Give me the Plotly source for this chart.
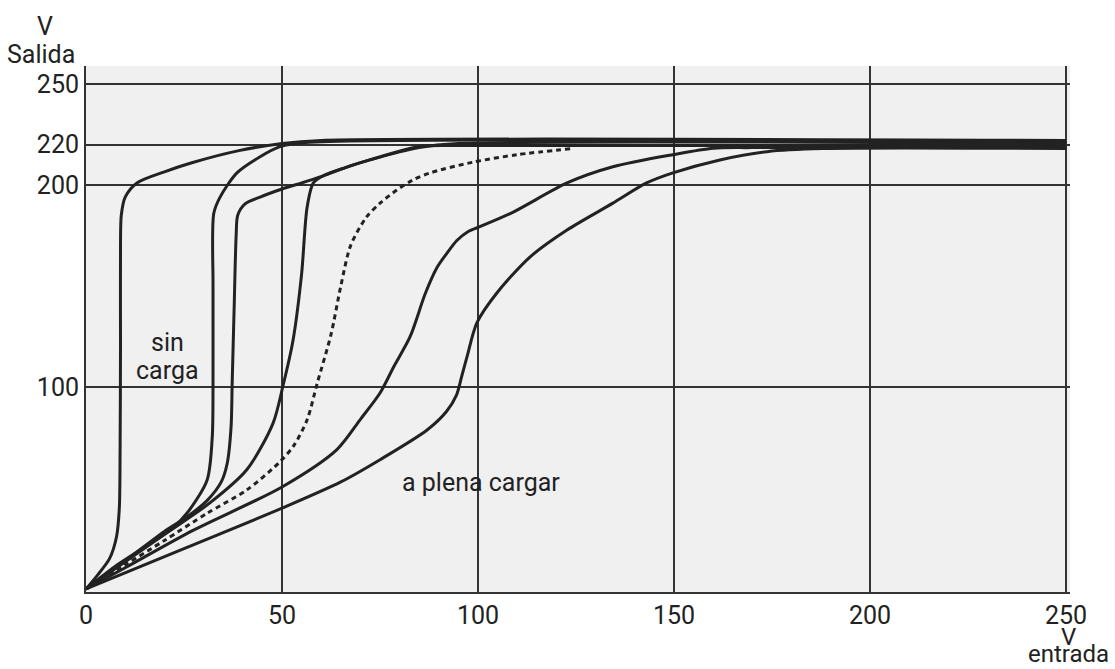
import plotly.graph_objects as go

# Input voltage (V entrada) vs output voltage (V Salida) for several load levels
c1_x = [0, 3, 6, 7.8, 8.5, 8.7, 8.8, 8.8, 9.0, 10.0, 13.0, 20.0, 27.0, 39.0, 50.0, 60, 250]
c1_y = [0, 7, 15, 26, 40, 70, 120, 170, 185, 194, 201, 206.5, 211, 217, 220.5, 222, 222]

c2_x = [0, 8, 16, 22, 25.8, 30.9, 32.2, 32.4, 32.4, 32.6, 34.2, 38.5, 44.4, 49.5, 56, 250]
c2_y = [0, 12, 22, 30, 37.6, 54, 75, 100, 150, 186, 194, 206, 214, 219, 221, 221]

c3_x = [0, 10, 20, 26, 31, 34.5, 36, 37, 37.3, 37.8, 38.3, 38.7, 40.5, 44.4, 50, 55, 59.7, 66, 72.4, 85, 95, 250]
c3_y = [0, 14, 28.5, 36, 44, 53, 62, 80, 103, 140, 175, 185, 190.5, 194, 198, 201, 204, 208.5, 212.4, 218.5, 220.5, 220.5]

c4_x = [0, 10, 20, 31.6, 41, 47.7, 50.3, 52.8, 55, 56.4, 58, 60.5, 66, 72.4, 85, 95, 250]
c4_y = [0, 13.5, 27, 42.6, 59, 82, 101, 123, 156, 189, 201, 204.5, 208.5, 212.4, 219, 219.5, 219.5]

dot_x = [0, 10, 20, 31, 41, 49.5, 53, 56.4, 59, 62.5, 65, 67.5, 71.5, 75, 79.3, 83.4, 87.8, 98.5, 110, 124]
dot_y = [0, 12, 24, 37.6, 49, 63, 71, 83.7, 102, 126, 150, 170, 184, 191, 197.5, 202.5, 206, 211.2, 215, 218]

c6_x = [0, 10, 27.3, 50, 64, 70, 75, 78.5, 82.7, 86.5, 89.5, 92, 94.6, 97.5, 100, 109, 122.7, 134.4, 149.7, 160, 170, 250]
c6_y = [0, 10.5, 29, 50.5, 69, 84, 97, 110, 125, 146, 159, 166, 172.5, 177, 179, 186.6, 201, 209, 215, 218.2, 218.5, 218.5]

c7_x = [0, 25, 50, 65, 75, 87, 92, 94.5, 95.8, 97.2, 99.7, 104.8, 113.3, 122.7, 134.4, 143, 149.7, 161.7, 173.7, 188, 250]
c7_y = [0, 20, 40, 53, 64, 78.7, 88, 96, 105, 115, 131.7, 146.5, 164.4, 177.7, 191, 201, 206, 212.4, 216.5, 218, 218]

x_ticks = [0, 50, 100, 150, 200, 250]
y_ticks = [100, 200, 220, 250]

INK = "#222222"
GRID = "#333333"
FONT = "Roboto, Liberation Sans, sans-serif"
FS = 25

fig = go.Figure()

solid = [(c1_x, c1_y), (c2_x, c2_y), (c3_x, c3_y), (c4_x, c4_y), (c6_x, c6_y), (c7_x, c7_y)]
for xs, ys in solid:
    fig.add_trace(go.Scatter(
        x=xs, y=ys, mode="lines",
        line=dict(color=INK, width=3, shape="spline", smoothing=0.8),
        hoverinfo="skip", showlegend=False,
    ))

fig.add_trace(go.Scatter(
    x=dot_x, y=dot_y, mode="lines",
    line=dict(color=INK, width=3, dash="5px,4px", shape="spline", smoothing=0.8),
    hoverinfo="skip", showlegend=False,
))

axis_style = dict(
    showgrid=True, gridcolor=GRID, gridwidth=2,
    showline=True, linecolor=GRID, linewidth=2,
    zeroline=False, ticks="", fixedrange=True,
    tickfont=dict(family=FONT, size=FS, color=INK),
)
fig.update_xaxes(range=[0, 251], tickvals=x_ticks,
                 ticktext=[str(v) for v in x_ticks], **axis_style)
fig.update_yaxes(range=[-1.5, 258.9], tickvals=y_ticks,
                 ticktext=[str(v) for v in y_ticks], **axis_style)

labels = [
    dict(text="V", x=-0.0417, y=1.076, xref="paper", yref="paper", size=FS),
    dict(text="Salida", x=-0.0457, y=1.021, xref="paper", yref="paper", size=FS),
    dict(text="V", x=0.998, y=-0.0856, xref="paper", yref="paper", size=24),
    dict(text="entrada", x=0.998, y=-0.1179, xref="paper", yref="paper", size=24),
    dict(text="sin", x=20.7, y=122, xref="x", yref="y", size=FS),
    dict(text="carga", x=20.7, y=108, xref="x", yref="y", size=FS),
    dict(text="a plena cargar", x=100.8, y=52.5, xref="x", yref="y", size=FS),
]
for lab in labels:
    size = lab.pop("size")
    fig.add_annotation(
        **lab, showarrow=False, xanchor="center", yanchor="middle",
        font=dict(family=FONT, size=size, color=INK),
    )

fig.update_layout(
    width=1115, height=669,
    margin=dict(l=86, r=45, t=66, b=77),
    paper_bgcolor="white", plot_bgcolor="#f0f0f0",
    font=dict(family=FONT, size=FS, color=INK),
)

fig.write_html("out.html")
